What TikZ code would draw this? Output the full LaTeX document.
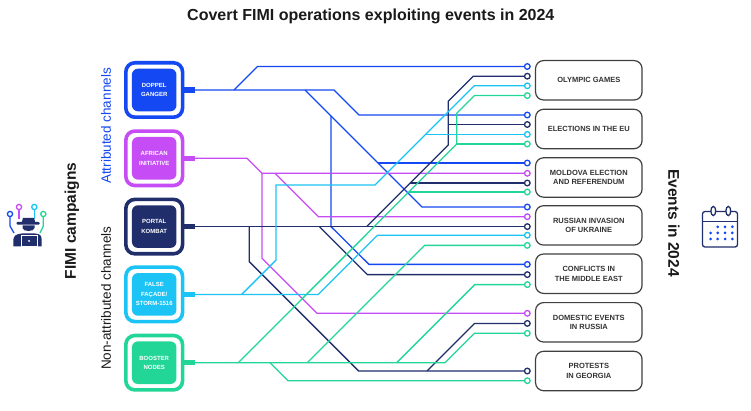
\documentclass[tikz,border=0pt]{standalone}
\usepackage{fontspec}
\setmainfont{Liberation Sans}
\usetikzlibrary{positioning}
\definecolor{cblue}{RGB}{20,72,242}
\definecolor{cmag}{RGB}{198,76,245}
\definecolor{cnavy}{RGB}{32,46,108}
\definecolor{ccyan}{RGB}{28,196,245}
\definecolor{cgreen}{RGB}{34,214,152}
\definecolor{cgray}{RGB}{64,64,64}
\definecolor{ctext}{RGB}{26,26,26}

\begin{document}
\begin{tikzpicture}[x=1pt,y=-1pt,line width=1.2pt,
outer/.style={draw,line width=3.6pt,rounded corners=9pt,minimum width=56.7pt,minimum height=54.4pt,inner sep=0pt},
inner/.style={rounded corners=6pt,minimum width=44.5pt,minimum height=42.6pt,inner sep=0pt,text=white,align=center,font=\bfseries\fontsize{6}{9.5}\selectfont},
tab/.style={minimum width=10.5pt,minimum height=5.3pt,inner sep=0pt,outer sep=0pt},
event/.style={draw=cgray,line width=1.2pt,rounded corners=8pt,minimum width=106.5pt,minimum height=39.4pt,inner sep=0pt,align=center,text=cgray!80!black,font=\bfseries\fontsize{7.5}{9.7}\selectfont},
endp/.style={circle,draw,fill=white,line width=1.3pt,minimum size=5.6pt,inner sep=0pt},
link/.style={line width=1.3pt},
side/.style={text=ctext,font=\bfseries\fontsize{15.5}{18}\selectfont},
group/.style={rotate=90,font=\fontsize{13.5}{16}\selectfont}]
\fill[white] (0,0) rectangle (751,411);
\useasboundingbox (0,0) rectangle (751,411);

\node[text=ctext,font=\bfseries\fontsize{16}{19}\selectfont] (title) at (370.8,16.5) {Covert FIMI operations exploiting events in 2024};
\node[side,rotate=90] (camp) at (72,221) {FIMI campaigns};
\node[side,rotate=-90] (evts) at (674,223) {Events in 2024};
\node[group,text=cblue] (attr) at (106,126) {Attributed channels};
\node[group,text=ctext] (nonattr) at (106,298.3) {Non-attributed channels};

\foreach \i/\y/\c/\t in {1/90/cblue/{DOPPEL\\GANGER},2/158.3/cmag/{AFRICAN\\INITIATIVE},3/226.6/cnavy/{PORTAL\\KOMBAT},4/294.4/ccyan/{FALSE\\FAÇADE/\\STORM-1516},5/362.7/cgreen/{BOOSTER\\NODES}}{
\node[outer,draw=\c] (ch\i) at (154.2,\y) {};
\node[inner,fill=\c] (in\i) at (ch\i) {\t};
\node[tab,fill=\c,right=0pt of ch\i] (t\i) {};
}

\foreach \i/\y/\t in {1/80.3/{OLYMPIC GAMES},2/129/{ELECTIONS IN THE EU},3/177.5/{MOLDOVA ELECTION\\AND REFERENDUM},4/225.4/{RUSSIAN INVASION\\OF UKRAINE},5/273.7/{CONFLICTS IN\\THE MIDDLE EAST},6/322.3/{DOMESTIC EVENTS\\IN RUSSIA},7/371/{PROTESTS\\IN GEORGIA}}
\node[event] (ev\i) at (588.8,\y) {\t};

\foreach \n/\y/\c in {B1/66.5/cblue,N1/76.2/cnavy,C1/85.8/ccyan,G1/95.6/cgreen,
B2/115/cblue,N2/124.5/cnavy,C2/134.4/ccyan,G2/144/cgreen,
B3/163/cblue,M3/173.3/cmag,N3/183/cnavy,G3/192/cgreen,
B4/207/cblue,M4/216.7/cmag,N4/226.6/cnavy,C4/235.2/ccyan,G4/245.4/cgreen,
B5/264.4/cblue,N5/274.6/cnavy,G5/284.6/cgreen,
M6/313.3/cmag,N6/323.4/cnavy,G6/333.3/cgreen,
N7/371/cnavy,G7/380.7/cgreen}
\node[endp,draw=\c] (\n) at (527.3,\y) {};

\coordinate (jb1) at (234,90);
\coordinate (jb2) at (305,90);
\coordinate (jb3) at (378,163);
\coordinate (jb4) at (331,116);
\draw[link,cblue] (t1.east) -- (334,90) -- (359,115) -- (B2);
\draw[link,cblue] (jb1) -- (257.5,66.5) -- (B1);
\draw[link,cblue] (jb2) -- (422,207) -- (B4);
\draw[link,cblue] (jb3) -- (B3);
\draw[link,cblue] (jb4) -- (331,226.6) -- (369,264.4) -- (B5);

\coordinate (jm1) at (262,173.3);
\coordinate (jm2) at (275,173.3);
\draw[link,cmag] (t2.east) -- (247,158.3) -- (jm1) -- (M3);
\draw[link,cmag] (jm1) -- (262,258.3) -- (317,313.3) -- (M6);
\draw[link,cmag] (jm2) -- (318.4,216.7) -- (M4);

\coordinate (jn1) at (249.3,226.6);
\coordinate (jn2) at (319.3,226.6);
\coordinate (jn3) at (366.7,226.6);
\coordinate (jn4) at (427,371);
\coordinate (jn5) at (410.3,183);
\coordinate (jn6) at (448.3,124.5);
\draw[link,cnavy] (t3.east) -- (N4);
\draw[link,cnavy] (jn1) -- (249.3,261.7) -- (358.6,371) -- (N7);
\draw[link,cnavy] (jn4) -- (474.6,323.4) -- (N6);
\draw[link,cnavy] (jn2) -- (367.3,274.6) -- (N5);
\draw[link,cnavy] (jn3) -- (448.3,145) -- (448.3,101.2) -- (473.3,76.2) -- (N1);
\draw[link,cnavy] (jn5) -- (N3);
\draw[link,cnavy] (jn6) -- (N2);

\coordinate (jc1) at (241.7,294.4);
\coordinate (jc2) at (425.6,134.4);
\draw[link,ccyan] (t4.east) -- (318.3,294.4) -- (377.5,235.2) -- (C4);
\draw[link,ccyan] (jc1) -- (276,260.1) -- (276,185) -- (375,185) -- (474.2,85.8) -- (C1);
\draw[link,ccyan] (jc2) -- (C2);

\coordinate (jg1) at (238.3,362.7);
\coordinate (jg2) at (456.7,144);
\coordinate (jg3) at (409,192);
\coordinate (jg4) at (307.3,362.7);
\coordinate (jg5) at (396.7,362.7);
\coordinate (jg6) at (270,362.7);
\draw[link,cgreen] (t5.east) -- (445,362.7) -- (474.4,333.3) -- (G6);
\draw[link,cgreen] (jg1) -- (jg2) -- (456.7,113.3) -- (474.4,95.6) -- (G1);
\draw[link,cgreen] (jg2) -- (G2);
\draw[link,cgreen] (jg3) -- (G3);
\draw[link,cgreen] (jg4) -- (424.6,245.4) -- (G4);
\draw[link,cgreen] (jg5) -- (474.8,284.6) -- (G5);
\draw[link,cgreen] (jg6) -- (288,380.7) -- (G7);

\draw[cblue,line width=1.3pt] (10,216.6) -- (10,226) -- (14,233);
\draw[cmag,line width=1.3pt] (19,209.6) -- (19,219);
\draw[ccyan,line width=1.3pt] (34.3,209.6) -- (34.3,219);
\draw[cgreen,line width=1.3pt] (43.3,216.6) -- (43.3,226) -- (40,233);
\foreach \x/\y/\c in {10/214/cblue,19/207/cmag,34.3/207/ccyan,43.3/214/cgreen}
\draw[\c,fill=white,line width=1.3pt] (\x,\y) circle (2.6pt);
\fill[cnavy] (21.5,223) -- (23,218) -- (34,218) -- (35.5,223) -- cycle;
\fill[cnavy,rounded corners=0.8pt] (16.7,222) rectangle (39.5,224.6);
\fill[cnavy] (22.5,225.4) -- (34.5,225.4) -- (34.5,228) .. controls (34.5,232) and (22.5,232) .. (22.5,228) -- cycle;
\fill[cnavy] (13.3,246.5) -- (13.3,240) .. controls (13.3,235.5) and (17,233.8) .. (22,233.5) -- (35,233.5) .. controls (40,233.8) and (41.7,235.5) .. (41.7,240) -- (41.7,246.5) -- cycle;
\filldraw[fill=cnavy,draw=white,line width=1pt] (21,235.5) rectangle (37,246.5);
\fill[white] (29,241) circle (1pt);

\draw[cnavy,line width=1.3pt,rounded corners=2.5pt] (702.5,211.5) rectangle (737.5,247);
\draw[cnavy,line width=1.3pt] (702.5,221.5) -- (737.5,221.5);
\foreach \x in {713.3,728.3}
\draw[cnavy,fill=white,line width=1.3pt] (\x,211) ellipse (2.4pt and 4.6pt);
\foreach \x in {717.7,725,732.3}
\fill[cblue] (\x,226.8) circle (1.5pt);
\foreach \y in {232.9,239}
\foreach \x in {710.6,717.7,725,732.3}
\fill[cblue] (\x,\y) circle (1.5pt);
\end{tikzpicture}
\end{document}
